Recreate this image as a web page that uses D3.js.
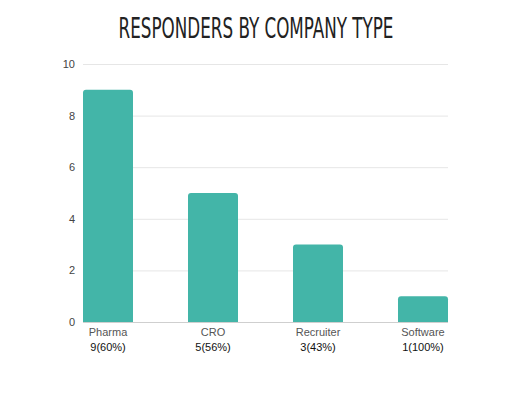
<!DOCTYPE html>
<html>
<head>
<meta charset="utf-8">
<script src="https://cdn.jsdelivr.net/npm/d3@7"></script>
<style>
  html, body { margin: 0; padding: 0; background: #fff; }
  svg { display: block; }
</style>
</head>
<body>
<div id="chart"></div>
<script>
const categories = ['Pharma', 'CRO', 'Recruiter', 'Software'];
const counts = [9, 5, 3, 1];
const percents = ['60%', '56%', '43%', '100%'];
const yTicks = [0, 2, 4, 6, 8, 10];

const width = 527, height = 395;
const margin = { top: 64, right: 79, bottom: 73, left: 83 };

const svg = d3.select('#chart').append('svg')
  .attr('width', width)
  .attr('height', height);

// title - squeeze a condensed font horizontally to get the tall narrow look
const title = svg.append('text')
  .attr('text-anchor', 'middle')
  .style('font-family', '"DejaVu Sans Condensed", "Liberation Sans Narrow", sans-serif')
  .style('font-size', '29px')
  .style('fill', '#222')
  .text('RESPONDERS BY COMPANY TYPE');
const natural = title.node().getComputedTextLength();
const sx = 275 / natural;
title.attr('transform', `translate(256,38) scale(${sx},1)`);

const x = d3.scaleBand()
  .domain(categories)
  .range([margin.left, width - margin.right])
  .paddingInner(55 / 105)
  .paddingOuter(0);

const y = d3.scaleLinear()
  .domain([0, 10])
  .range([height - margin.bottom, margin.top]);

// grid lines
const yAxis = d3.axisLeft(y)
  .tickValues(yTicks)
  .tickSize(-(width - margin.left - margin.right))
  .tickPadding(8);

const gy = svg.append('g')
  .attr('transform', `translate(${margin.left},0)`)
  .call(yAxis);
gy.select('.domain').remove();
gy.selectAll('.tick line')
  .attr('stroke', d => d === 0 ? '#cfcfcf' : '#e6e6e6');
gy.selectAll('.tick text')
  .attr('fill', '#444')
  .style('font-family', 'Arial, "Liberation Sans", sans-serif')
  .style('font-size', '11px');

// bars with rounded top corners
const r = 3;
svg.append('g').selectAll('path')
  .data(categories.map((c, i) => ({ c, v: counts[i] })))
  .join('path')
  .attr('fill', '#43b5a8')
  .attr('d', d => {
    const x0 = x(d.c), x1 = x0 + x.bandwidth();
    const y0 = y(0), y1 = y(d.v);
    return `M${x0},${y0}V${y1 + r}Q${x0},${y1} ${x0 + r},${y1}H${x1 - r}Q${x1},${y1} ${x1},${y1 + r}V${y0}Z`;
  });

// category labels
const labels = svg.append('g');
labels.selectAll('text.cat')
  .data(categories)
  .join('text')
  .attr('class', 'cat')
  .attr('x', d => x(d) + x.bandwidth() / 2)
  .attr('y', height - margin.bottom + 14)
  .attr('text-anchor', 'middle')
  .style('font-family', 'Arial, "Liberation Sans", sans-serif')
  .style('font-size', '11px')
  .style('fill', '#555')
  .text(d => d);

labels.selectAll('text.val')
  .data(categories)
  .join('text')
  .attr('class', 'val')
  .attr('x', d => x(d) + x.bandwidth() / 2)
  .attr('y', height - margin.bottom + 29)
  .attr('text-anchor', 'middle')
  .style('font-family', 'Arial, "Liberation Sans", sans-serif')
  .style('font-size', '11px')
  .style('fill', '#111')
  .text((d, i) => `${counts[i]}(${percents[i]})`);
</script>
</body>
</html>
